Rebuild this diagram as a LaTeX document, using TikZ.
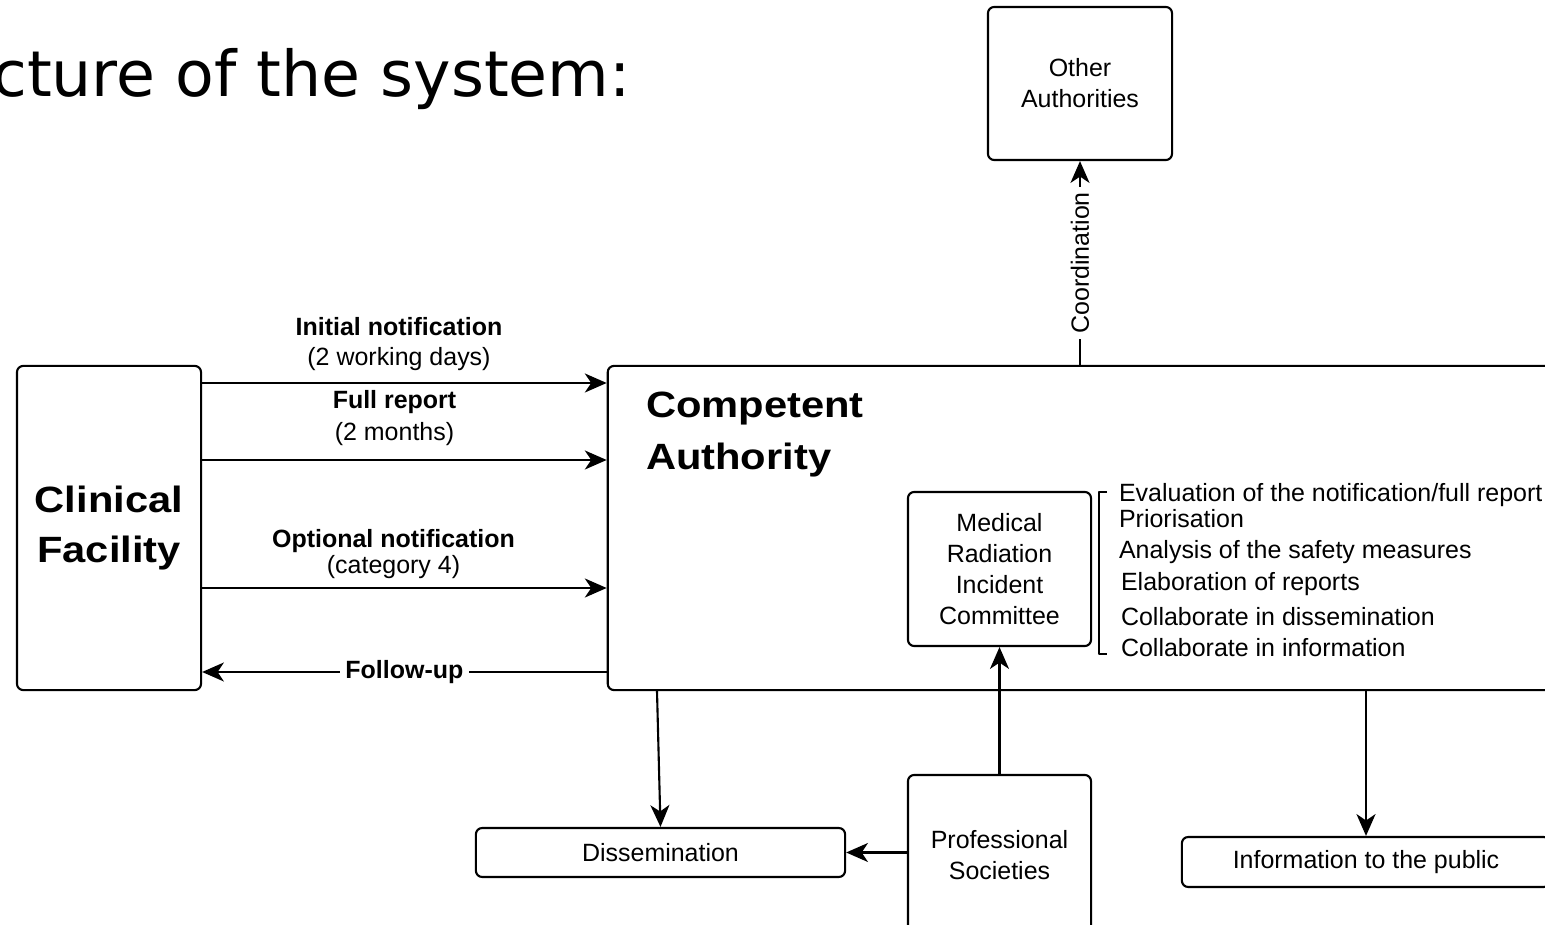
\documentclass[tikz,border=0pt]{standalone}
\usepackage{fontspec}
\setmainfont{Liberation Sans}
\newfontfamily\titlefont{DejaVu Sans}
\newfontfamily\headfont{Liberation Sans Bold}[FakeStretch=1.14]
\usetikzlibrary{arrows.meta}

\begin{document}
\begin{tikzpicture}[x=0.01cm, y=-0.01cm, line width=0.6pt, line join=round,
	>={Stealth[length=6.2pt,width=5.4pt,inset=1.8pt]},
	font=\fontsize{7.1}{8.8}\selectfont,
	box/.style={draw, rounded corners=1.8pt, align=center, inner sep=0pt},
	head/.style={font=\headfont\fontsize{10.4}{14.4}\selectfont, inner sep=0pt},
	lbl/.style={align=center, inner sep=0pt},
	onlink/.style={fill=white, inner sep=1.5pt}]
	\useasboundingbox (0,0) rectangle (1545,925);
	\clip (0,0) rectangle (1545,925);

	\node[anchor=base east, inner sep=0pt, font=\titlefont\fontsize{18}{22}\selectfont] (title) at (632,97) {cture of the system:};

	% boxes
	\node[box, minimum width=1.84cm, minimum height=1.53cm] (oa) at (1080,83.5) {Other\\Authorities};
	\node[box, head, align=center, minimum width=1.84cm, minimum height=3.24cm] (cf) at (109,528) {Clinical\\Facility};
	\node[box, minimum width=9.52cm, minimum height=3.24cm] (ca) at (1084,528) {};
	\node[head, align=left, anchor=north west, font=\headfont\fontsize{10.4}{14.8}\selectfont] (catext) at (645,391) {Competent\\Authority};
	\node[box, minimum width=1.83cm, minimum height=1.54cm] (mric) at (999.5,569) {Medical\\Radiation\\Incident\\Committee};
	\node[box, minimum width=3.69cm, minimum height=0.49cm] (dis) at (660.5,852.5) {Dissemination};
	\node[box, minimum width=1.83cm, minimum height=1.6cm] (ps) at (999.5,855) {Professional\\Societies};
	\node[box, minimum width=3.68cm, minimum height=0.5cm] (itp) at (1366,862) {Information to the public};

	% tasks of the committee
	\draw[line width=0.45pt] (1107,492) -- (1099,492) -- (1099,654) -- (1107,654);
	\path[every node/.style={anchor=base west, inner sep=0pt}]
	(1118,502) node (task1) {Evaluation of the notification/full report}
	(1118,528) node (task2) {Priorisation}
	(1118,559) node (task3) {Analysis of the safety measures}
	(1120,591) node (task4) {Elaboration of reports}
	(1120,626) node (task5) {Collaborate in dissemination}
	(1120,657) node (task6) {Collaborate in information};

	% reporting lines
	\coordinate (y1) at (0,383);
	\coordinate (y2) at (0,460);
	\coordinate (y3) at (0,588);
	\coordinate (y4) at (0,672);
	\draw[->] (cf.east |- y1) -- (ca.west |- y1);
	\draw[->] (cf.east |- y2) -- (ca.west |- y2);
	\draw[->] (cf.east |- y3) -- (ca.west |- y3);
	\draw[->] (ca.west |- y4) -- (cf.east |- y4) node[midway, onlink] (fu) {\bfseries Follow-up};
	\path
	(399,344) node[lbl] (initial) {\bfseries Initial notification\\[-0.5pt](2 working days)}
	(394.5,418) node[lbl] (full) {\bfseries Full report\\[0.4pt](2 months)}
	(393.5,554) node[lbl] (optional) {\bfseries Optional notification\\[-1.4pt](category 4)};

	\draw[->] (oa.south |- ca.north) -- (oa.south) node[midway, onlink, rotate=90] (coord) {Coordination};
	\draw[->] (ca.south -| 657,0) -- (dis.north);
	\draw[->] (itp.north |- ca.south) -- (itp.north);
	\draw[->] (ps.north) -- (mric.south);
	\draw[->] (ps.west |- dis.east) -- (dis.east);
\end{tikzpicture}
\end{document}
